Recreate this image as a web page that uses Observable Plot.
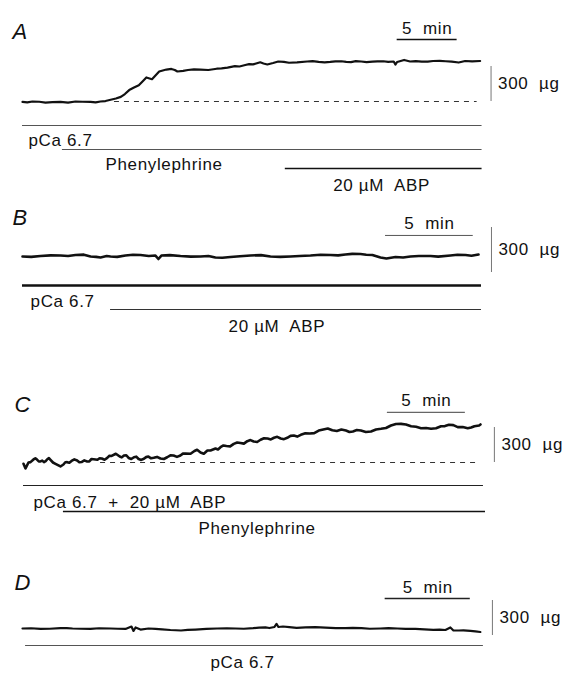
<!DOCTYPE html>
<html><head><meta charset="utf-8">
<script src="https://cdn.jsdelivr.net/npm/d3@7"></script>
<script src="https://cdn.jsdelivr.net/npm/@observablehq/plot@0.6"></script>
<style>
html,body{margin:0;padding:0;background:#fff;}
#chart{width:563px;}
#chart svg{display:block;}
</style></head><body><div id="chart"></div>
<script>
// ---------- DATA (time in minutes, force in µg) ----------
// Panel A: pCa 6.7, then phenylephrine, then 20 µM ABP
const tA = [0,0.83,1.92,3.17,4.42,5.67,6.5,6.92,7.79,8.54,9.3,10.05,10.33,10.8,11.4,12,12.42,12.92,13.8,14.83,16.2,17.1,17.72,18.58,19.22,19.83,20.42,21.33,22.23,23.74,24.7,25.67,26.6,27.4,28.25,29.2,30.1,30.96,31.1,31.25,31.83,32.33,33.3,34.25,35.3,36.38,36.92,38.17];
const fA = [-4,0,-9,-4,0,-4,0,4,26,64,120,176,206,191,257,274,279,257,270,274,281,290,303,313,318,336,317,343,332,343,340,339,345,338,343,341,345,343,317,339,356,343,341,347,345,334,347,347];
// finer readings of the noisy parts of trace A
const tAfine = [0.4,1.4,2.5,3.8,5.0,6.1,8.2,8.9,9.7,12.7,13.4,14.3,15.5,16.6,18.1,18.9,20.1,20.9,21.8,22.9,24.2,25.2,26.1,27.0,27.8,28.7,29.6,30.5,32.8,33.8,34.8,35.8,37.5];
const fAfine = [-8,-2,-6,-10,-2,-8,40,98,140,270,262,276,270,284,300,320,326,330,340,336,346,336,344,340,346,338,344,340,346,342,349,342,344];
const protoNamesA = ["pCa 6.7", "Phenylephrine", "20 µM\u00a0 ABP"];
const protoStartA = [0, 3.33, 21.92];
const protoEndA = [38.33, 38.33, 38.33];
const protoLabelAtA = [0.5, 6.92, 25.92];

// Panel B: pCa 6.7, then 20 µM ABP
const tB = [0,1.03,2.17,3.02,3.88,4.45,5.02,5.87,6.73,7.58,7.75,7.92,9.01,10.15,11.0,11.86,13.0,14.14,15.28,16.42,17.56,18.41,19.27,19.95,20.41,20.75,21.27,22.12,23.26,24.4,25.26,26.0];
const fB = [107,110,113,117,107,100,107,113,117,113,90,113,110,107,100,103,113,107,107,113,117,120,123,117,100,93,103,107,110,113,117,120];
const tBfine = [0.5,1.6,2.6,3.5,4.2,4.8,5.4,6.3,7.2,8.4,9.6,10.6,11.4,12.4,13.6,14.7,15.8,17.0,18.0,18.8,19.6,21.7,22.6,23.7,24.8,25.6];
const fBfine = [104,114,110,119,104,110,104,118,110,116,106,110,98,108,116,104,110,118,114,124,118,100,110,106,118,112];
const protoNamesB = ["pCa 6.7", "20 µM\u00a0 ABP"];
const protoStartB = [0, 5.02];
const protoEndB = [26.17, 26.17];
const protoLabelAtB = [0.46, 11.75];

// Panel C: pCa 6.7 + 20 µM ABP, then phenylephrine
const tC = [0,0.13,0.32,0.45,0.64,0.88,1.09,1.31,1.54,1.73,2.05,2.37,2.56,2.8,3.08,3.44,3.72,4.08,4.36,4.74,5.02,5.37,5.65,5.92,6.17,6.44,6.74,7.08,7.38,7.72,8.01,8.35,8.78,9.21,9.62,10.06,10.38,10.71,10.96,11.13,11.35,11.56,11.79,11.99,12.31,12.63,13.01,13.48,13.91,14.35,14.76,15.2,15.65,16.06,16.49,16.91,17.33,17.78,18.36,18.93,19.51,20.09,20.67,21.12,21.63,22.28,22.92,23.56,24.2,24.52,24.85,25.49,26.13,26.77,27.28,27.84,28.48,28.91,29.21,29.3];
const fC = [-11,-51,0,3,26,23,9,3,30,23,-11,-34,-17,3,13,17,4,9,30,23,34,40,56,75,51,60,39,45,30,32,51,40,34,45,60,60,77,75,99,109,86,75,103,103,120,131,141,160,167,183,180,195,206,212,206,212,231,237,249,274,291,270,274,266,274,266,289,317,331,326,311,294,289,311,323,303,294,311,317,326];
const tCfine = [0.76,0.98,1.2,1.42,1.63,1.89,2.68,2.94,3.26,3.58,3.9,4.22,4.88,5.2,5.51,6.3,6.59,6.91,7.23,7.55,7.86,8.18,8.56,9.0,9.42,9.84,10.22,12.47,12.82,13.25,13.7,14.13,14.55,14.98,15.42,15.86,16.27,16.7,17.12,17.55,18.07,18.64,19.8,20.38,20.9,21.37,21.95,22.6,23.24,23.88,25.17,25.81,26.45,27.02,27.56,28.16,28.7];
const fCfine = [36,10,16,12,38,0,2,-2,27,2,18,10,37,24,58,44,62,30,50,22,46,36,48,30,62,48,76,112,146,138,172,162,192,176,208,198,220,200,228,222,250,252,276,282,262,278,262,283,296,330,306,296,294,312,320,304,300];
const protoNamesC = ["pCa 6.7\u00a0 +\u00a0 20 µM\u00a0 ABP", "Phenylephrine"];
const protoStartC = [0, 2.56];
const protoEndC = [29.49, 29.62];
const protoLabelAtC = [0.64, 11.22];

// Panel D: pCa 6.7 only
const tD = [0,1.06,2.23,2.94,3.99,5.17,6.05,6.4,6.52,6.64,6.93,7.81,8.69,9.31,10.16,11.43,12.51,13.55,14.27,14.8,14.92,15.03,15.67,16.62,17.79,18.97,19.91,21.02,22.02,23.08,24.13,24.84,25.13,25.31,25.63,26.31,26.89];
const fD = [60,56,64,60,56,60,56,77,39,69,51,56,47,43,51,60,60,63,69,73,99,73,72,69,67,64,63,60,60,56,49,47,69,43,43,39,30];
const tDfine = [0.5,1.6,2.6,3.4,4.5,5.6,7.4,8.2,9.7,10.8,12.0,13.0,13.9,14.5,15.3,16.1,17.2,18.4,19.4,20.4,21.5,22.5,23.6,24.5,25.9,26.6];
const fDfine = [62,58,64,58,62,58,60,52,48,56,62,58,68,64,77,66,71,63,66,58,63,57,53,51,44,36];
const protoNamesD = ["pCa 6.7"];
const protoStartD = [0.18];
const protoEndD = [27.07];
const protoLabelAtD = [12.92];

// Scale bars: 5 min and 300 µg
const panelLetters = ["A", "B", "C", "D"];
const timeBarStart = [31.25, 20.7, 23.33, 21.3];
const timeBarLevel = [531, 247, 429, 317];
const forceBarAt = [39.08, 26.74, 30.19, 27.6];
const baselineSpan = [[7.67, 37.92], null, [4.94, 29.3], null];

// ---------- LAYOUT ----------
const FONT = "'Liberation Sans', Arial, Helvetica, sans-serif";
const layouts = [
  {height: 200, ml: 22, mr: 83, mt: 66, mb: 99, T: 38.2, lw: 2.2, letterDx: -10, letterDy: -28,
   rows: [
     {lineDy: 24, labelDy: 44, stroke: "#555", sw: 1, anchor: "start"},
     {lineDy: 48, labelDy: 68, stroke: "#555", sw: 1, anchor: "start"},
     {lineDy: 67, labelDy: 89, stroke: "#111", sw: 1.6, anchor: "start"}],
   tbStroke: "#111", tbSw: 1.5},
  {height: 180, ml: 22, mr: 85, mt: 27, mb: 108, T: 26, lw: 2.6, letterDx: -10, letterDy: -3,
   rows: [
     {lineDy: 13, labelDy: 34, stroke: "#111", sw: 2.4, anchor: "start"},
     {lineDy: 37, labelDy: 59, stroke: "#333", sw: 1.2, anchor: "start"}],
   tbStroke: "#555", tbSw: 1},
  {height: 170, ml: 23, mr: 83, mt: 47, mb: 88, T: 29.3, lw: 2.6, letterDx: -9, letterDy: -16,
   rows: [
     {lineDy: 23, labelDy: 45, stroke: "#222", sw: 1, anchor: "start"},
     {lineDy: 49, labelDy: 71, stroke: "#111", sw: 1.3, anchor: "start"}],
   tbStroke: "#666", tbSw: 1.2},
  {height: 127, ml: 22, mr: 83, mt: 50, mb: 42, T: 26.9, lw: 2.2, letterDx: -8, letterDy: -11,
   rows: [
     {lineDy: 10, labelDy: 32, stroke: "#555", sw: 1, anchor: "middle"}],
   tbStroke: "#222", tbSw: 1.4}
];

const traces = [[tA, fA, tAfine, fAfine], [tB, fB, tBfine, fBfine], [tC, fC, tCfine, fCfine], [tD, fD, tDfine, fDfine]];
const protocols = [
  [protoNamesA, protoStartA, protoEndA, protoLabelAtA],
  [protoNamesB, protoStartB, protoEndB, protoLabelAtB],
  [protoNamesC, protoStartC, protoEndC, protoLabelAtC],
  [protoNamesD, protoStartD, protoEndD, protoLabelAtD]
];

function panel(i) {
  const L = layouts[i];
  const [ts, fs, tf, ff] = traces[i];
  const trace = ts.map((t, k) => ({t, f: fs[k]}))
    .concat(tf.map((t, k) => ({t, f: ff[k]})))
    .sort((a, b) => a.t - b.t);
  const [names, starts, ends, labelAt] = protocols[i];
  const marks = [];
  if (baselineSpan[i]) {
    marks.push(Plot.ruleY([0], {x1: baselineSpan[i][0], x2: baselineSpan[i][1], stroke: "#333", strokeWidth: 1, strokeDasharray: "5,5"}));
  }
  marks.push(Plot.line(trace, {x: "t", y: "f", stroke: "#111", strokeWidth: L.lw, strokeLinejoin: "round", curve: "linear"}));
  // 5 min bar
  marks.push(Plot.ruleY([timeBarLevel[i]], {x1: timeBarStart[i], x2: timeBarStart[i] + 5, stroke: L.tbStroke, strokeWidth: L.tbSw}));
  marks.push(Plot.text(["5\u00a0 min"], {text: d => d, x: timeBarStart[i] + 2.5, y: timeBarLevel[i], dy: -6, lineAnchor: "bottom", textAnchor: "middle", fontSize: 17, fill: "#111"}));
  // 300 µg bar
  marks.push(Plot.ruleX([forceBarAt[i]], {y1: 0, y2: 300, stroke: "#777", strokeWidth: 1}));
  marks.push(Plot.text(["300\u00a0 µg"], {text: d => d, x: forceBarAt[i], y: 150, dx: 7, lineAnchor: "middle", textAnchor: "start", fontSize: 17, fill: "#111"}));
  // protocol rows
  names.forEach((name, k) => {
    const R = L.rows[k];
    marks.push(Plot.ruleY([0], {x1: starts[k], x2: ends[k], dy: R.lineDy, stroke: R.stroke, strokeWidth: R.sw}));
    marks.push(Plot.text([name], {text: d => d, x: labelAt[k], y: 0, dy: R.labelDy, lineAnchor: "bottom", textAnchor: R.anchor, fontSize: 17, fill: "#111"}));
  });
  // panel letter
  marks.push(Plot.text([panelLetters[i]], {text: d => d, frameAnchor: "top-left", dx: L.letterDx, dy: L.letterDy, lineAnchor: "bottom", textAnchor: "start", fontSize: 22, fontStyle: "italic", fill: "#111"}));

  return Plot.plot({
    width: 563, height: L.height,
    marginLeft: L.ml, marginRight: L.mr, marginTop: L.mt, marginBottom: L.mb,
    x: {domain: [0, L.T], axis: null},
    y: {domain: [0, 300], axis: null},
    style: {fontFamily: FONT, letterSpacing: "0.65px", background: "white", overflow: "visible"},
    marks
  });
}

const root = document.getElementById("chart");
for (let i = 0; i < 4; i++) root.appendChild(panel(i));
</script>
</body></html>
